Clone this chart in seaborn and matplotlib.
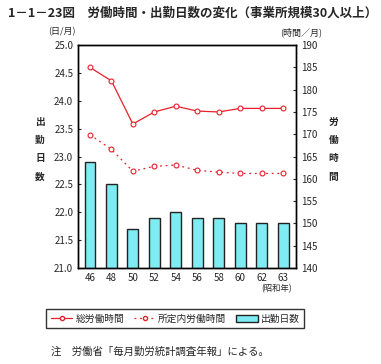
import numpy as np
import pandas as pd
import matplotlib
matplotlib.use('Agg')
import matplotlib.pyplot as plt
import seaborn as sns
from matplotlib.lines import Line2D
from matplotlib.patches import Patch

# データ（昭和年）
years = ['46', '48', '50', '52', '54', '56', '58', '60', '62', '63']
days = [22.9, 22.5, 21.7, 21.9, 22.0, 21.9, 21.9, 21.8, 21.8, 21.8]
total_hours = [185.0, 182.0, 172.3, 175.0, 176.3, 175.2, 175.0, 175.8, 175.8, 175.8]
sched_hours = [169.9, 166.6, 161.7, 162.8, 163.1, 161.9, 161.5, 161.2, 161.2, 161.2]

sns.set_style('white')
plt.rcParams['font.family'] = ['Noto Sans CJK JP', 'DejaVu Sans']

df = pd.DataFrame({'year': years, 'days': days,
                   'total': total_hours, 'sched': sched_hours})
df['pos'] = np.arange(len(df))

fig = plt.figure(figsize=(3.81, 3.64), dpi=100)
ax = fig.add_axes([0.205, 0.264, 0.572, 0.612])

bar_color = '#7fecf4'
sns.barplot(data=df, x='year', y='days', color=bar_color, width=0.5,
            edgecolor='#222222', linewidth=1.0, saturation=1, ax=ax)
ax.set_ylim(21.0, 25.0)
ax.set_yticks(np.arange(21.0, 25.01, 0.5))
ax.set_yticklabels([f'{v:.1f}' for v in np.arange(21.0, 25.01, 0.5)])
ax.set_xlim(-0.55, 9.6)
ax.set_xlabel('')
ax.set_ylabel('')

ax2 = ax.twinx()
sns.lineplot(data=df, x='pos', y='total', color='#e8202a', lw=0.9,
             marker='o', markersize=3.5, markerfacecolor='white',
             markeredgecolor='#e8202a', markeredgewidth=0.8, ax=ax2)
sns.lineplot(data=df, x='pos', y='sched', color='#e8202a', lw=0.9,
             linestyle=(0, (1.5, 3)), marker='o', markersize=3.5,
             markerfacecolor='white', markeredgecolor='#e8202a',
             markeredgewidth=0.8, ax=ax2)
ax2.set_ylim(140, 190)
ax2.set_yticks(np.arange(140, 191, 5))
ax2.set_xlim(-0.55, 9.6)
ax2.set_xlabel('')
ax2.set_ylabel('')

for a in (ax, ax2):
    for s in a.spines.values():
        s.set_color('black')
        s.set_linewidth(1.0)
    a.tick_params(direction='in', length=2, labelsize=7, width=0.8)
ax.tick_params(axis='x', length=0, pad=4)

# テキスト
fig.text(0.02, 0.965, '1－1－23図　労働時間・出勤日数の変化（事業所規模30人以上）',
         fontsize=9, fontweight='bold', va='center', ha='left')
fig.text(0.162, 0.912, '(日/月)', fontsize=6.5, ha='center', va='center')
fig.text(0.79, 0.912, '(時間／月)', fontsize=6.5, ha='center', va='center')
fig.text(0.105, 0.59, '出\n\n勤\n\n日\n\n数', fontsize=7, ha='center', va='center',
         linespacing=0.9, fontweight='bold')
fig.text(0.875, 0.59, '労\n\n働\n\n時\n\n間', fontsize=7, ha='center', va='center',
         linespacing=0.9, fontweight='bold')
fig.text(0.727, 0.207, '(昭和年)', fontsize=6, ha='center', va='center')

handles = [
    Line2D([0], [0], color='#e8202a', lw=0.9, marker='o', markersize=3,
           markerfacecolor='white', markevery=[1]),
    Line2D([0], [0], color='#e8202a', lw=0.9, linestyle=(0, (1.5, 3)),
           marker='o', markersize=3, markerfacecolor='white', markevery=[1]),
    Patch(facecolor=bar_color, edgecolor='#222222', linewidth=1.0),
]
leg = fig.legend(handles, ['総労働時間', '所定内労働時間', '出勤日数'],
                 loc='center', bbox_to_anchor=(0.46, 0.125), ncol=3,
                 fontsize=7, frameon=True, fancybox=False, edgecolor='black',
                 handlelength=2.2, handletextpad=0.3, columnspacing=1.0,
                 borderpad=0.5)
leg.get_frame().set_linewidth(1.0)

fig.text(0.135, 0.033, '注　労働省「毎月勤労統計調査年報」による。',
         fontsize=7.5, ha='left', va='center')

fig.savefig('out.png', dpi=100)
